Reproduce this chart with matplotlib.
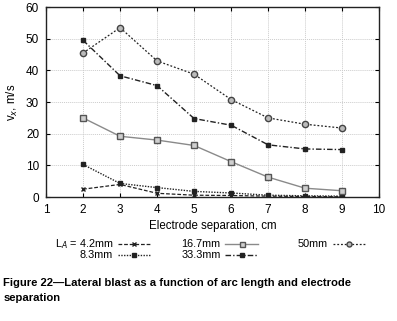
import matplotlib.pyplot as plt
from matplotlib.lines import Line2D
import numpy as np

plt.rcParams['font.family'] = ['Liberation Sans', 'DejaVu Sans']

# dataset
separation = [2, 3, 4, 5, 6, 7, 8, 9]
la_4_2 = [2.5, 4.0, 1.2, 0.6, 0.5, 0.3, 0.2, 0.1]
la_8_3 = [10.3, 4.3, 3.0, 1.8, 1.3, 0.6, 0.4, 0.3]
la_16_7 = [25.0, 19.2, 18.0, 16.3, 11.2, 6.3, 2.8, 2.0]
la_33_3 = [49.5, 38.3, 35.2, 24.8, 22.7, 16.5, 15.2, 15.0]
la_50 = [45.5, 53.5, 43.0, 38.8, 30.8, 25.0, 23.0, 21.8]

dark = '#222222'
styles = {
    '4.2mm': dict(color=dark, ls=(0, (3, 1.5)), lw=0.9, marker='x', ms=3.5, mew=1.0),
    '8.3mm': dict(color=dark, ls=(0, (1, 1)), lw=1.0, marker='s', ms=3, mfc=dark),
    '16.7mm': dict(color='#8a8a8a', ls='-', lw=1.0, marker='s', ms=4.5, mfc='#cfcfcf', mec='#555555', mew=1.0),
    '33.3mm': dict(color=dark, ls=(0, (4, 1.5, 1, 1.5)), lw=1.0, marker='s', ms=3.5, mfc=dark),
    '50mm': dict(color=dark, ls=(0, (1.5, 1.5)), lw=0.9, marker='o', ms=4.5, mfc='#bbbbbb', mec='#444444', mew=1.0),
}
series = {'4.2mm': la_4_2, '8.3mm': la_8_3, '16.7mm': la_16_7,
          '33.3mm': la_33_3, '50mm': la_50}

fig = plt.figure(figsize=(3.97, 3.21), dpi=100)
ax = fig.add_axes([0.116, 0.386, 0.839, 0.592])

for name, vals in series.items():
    ax.plot(separation, vals, **styles[name])

ax.set_xlim(1, 10)
ax.set_ylim(0, 60)
ax.set_xticks(np.arange(1, 11))
ax.set_yticks(np.arange(0, 61, 10))
ax.tick_params(direction='in', top=True, right=True, labelsize=8.5, length=3, pad=5)
ax.grid(True, color='#cccccc', ls=(0, (1, 1)), lw=0.7)
for sp in ax.spines.values():
    sp.set_linewidth(1.0)
    sp.set_color('#222222')
ax.set_xlabel('Electrode separation, cm', fontsize=8.3, labelpad=3)
ax.set_ylabel('v$_x$, m/s', fontsize=8.3, labelpad=4)

# legend laid out like the original key
cols = [(0.285, [('L$_A$ = 4.2mm', '4.2mm'), ('8.3mm', '8.3mm')]),
        (0.556, [('16.7mm', '16.7mm'), ('33.3mm', '33.3mm')]),
        (0.826, [('50mm', '50mm')])]
rows = [0.241, 0.206]
for xt, entries in cols:
    for (label, key), yr in zip(entries, rows):
        fig.text(xt, yr, label, ha='right', va='center', fontsize=7.8)
        st = dict(styles[key])
        ms = st.pop('ms') * 0.8
        x0, x1 = xt + 0.012, xt + 0.095
        fig.add_artist(Line2D([x0, x1], [yr, yr], transform=fig.transFigure,
                              **{k: v for k, v in st.items() if k not in ('marker', 'mfc', 'mec', 'mew')}))
        fig.add_artist(Line2D([(x0 + x1) / 2], [yr], transform=fig.transFigure, ls='none',
                              marker=st['marker'], ms=ms, color=st['color'],
                              mfc=st.get('mfc', st['color']), mec=st.get('mec', st['color']),
                              mew=st.get('mew', 1.0)))

fig.text(0.008, 0.118, 'Figure 22\u2014Lateral blast as a function of arc length and electrode',
         fontsize=8.1, fontweight='bold', va='center')
fig.text(0.008, 0.072, 'separation', fontsize=8.1, fontweight='bold', va='center')

fig.savefig('out.png', dpi=100)
